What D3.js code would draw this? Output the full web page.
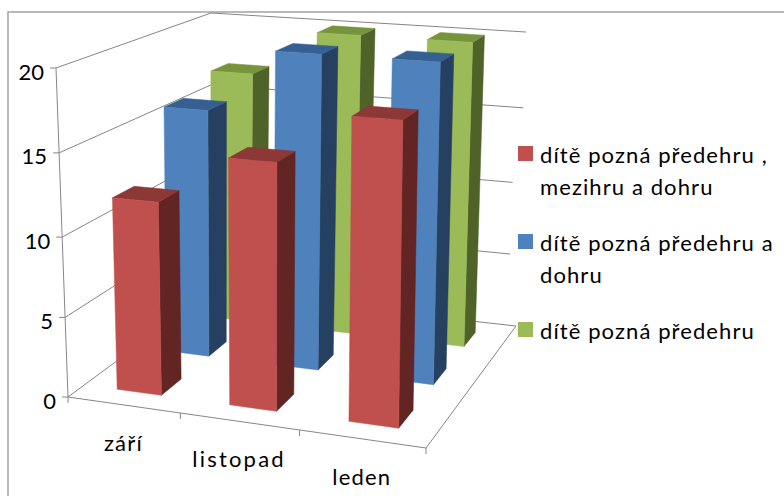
<!DOCTYPE html>
<html>
<head>
<meta charset="utf-8">
<script src="https://cdn.jsdelivr.net/npm/d3@7"></script>
<style>
  html, body { margin: 0; padding: 0; background: #fff; }
  text { font-family: Lato, sans-serif; fill: #000; }
</style>
</head>
<body>
<div id="chart"></div>
<script>
const categories = ["září", "listopad", "leden"];
const seriesNames = ["dítě pozná předehru , mezihru a dohru", "dítě pozná předehru a dohru", "dítě pozná předehru"];
const legendLines = [["dítě pozná předehru ,", "mezihru a dohru"], ["dítě pozná předehru a", "dohru"], ["dítě pozná předehru"]];
const redValues = [12, 15, 18];
const blueValues = [16, 20, 20];
const greenValues = [17, 20, 20];
const valueTicks = [0, 5, 10, 15, 20];

const seriesValues = [redValues, blueValues, greenValues];
// front, side, top
const seriesColors = [
  ["#c0504d", "#632523", "#8c3836"],
  ["#4f81bd", "#254061", "#376092"],
  ["#9bbb59", "#4f6228", "#77933c"]
];

const width = 784, height = 496;
const svg = d3.select("#chart").append("svg")
  .attr("width", width).attr("height", height)
  .style("display", "block");

//chart frame, only top and left edges are in the picture
svg.append("path")
  .attr("d", "M8,496V12H784")
  .attr("fill", "none").attr("stroke", "#a3a3a3").attr("stroke-width", 1.5);

//corners of the 3d box on screen: front left, front right, back right, back left
const floorQuad = [[68, 397], [426, 448], [516, 326], [210, 292]];
const topQuad = [[56, 68], [431, 95], [526, 32], [211, 13]];

//unit square -> quad (perspective)
function homography(q) {
  const [[x0, y0], [x1, y1], [x2, y2], [x3, y3]] = q;
  const dx1 = x1 - x2, dx2 = x3 - x2, sx = x0 - x1 + x2 - x3;
  const dy1 = y1 - y2, dy2 = y3 - y2, sy = y0 - y1 + y2 - y3;
  const det = dx1 * dy2 - dx2 * dy1;
  const g = (sx * dy2 - dx2 * sy) / det;
  const h = (dx1 * sy - sx * dy1) / det;
  return (u, v) => {
    const w = g * u + h * v + 1;
    return [
      ((x1 - x0 + g * x1) * u + (x3 - x0 + h * x3) * v + x0) / w,
      ((y1 - y0 + g * y1) * u + (y3 - y0 + h * y3) * v + y0) / w
    ];
  };
}
const floorAt = homography(floorQuad);
const topAt = homography(topQuad);

const uScale = d3.scaleBand().domain(categories).range([0, 1]).paddingInner(0.6).paddingOuter(0.3);
const vScale = d3.scaleBand().domain(seriesNames).range([0, 1]).paddingInner(0.6).paddingOuter(0.3);
//piecewise because the height axis has perspective too
const hScale = d3.scaleLinear().domain(valueTicks).range([0, 0.242, 0.486, 0.742, 1]);

function project(u, v, value) {
  const a = floorAt(u, v), b = topAt(u, v), t = hScale(value);
  return [a[0] + (b[0] - a[0]) * t, a[1] + (b[1] - a[1]) * t];
}

const line = d3.line();
const gridColor = "#868686";

//walls
const grid = svg.append("g").attr("fill", "none").attr("stroke", gridColor).attr("stroke-width", 1);
valueTicks.forEach(function(tick) {
  //the two middle gridlines stop short of the corner in the picture
  const endU = (tick === 5 || tick === 10) ? 0.975 : 1;
  grid.append("path").attr("d", line([project(0, 0, tick), project(0, 1, tick), project(endU, 1, tick)]));
  const p = project(0, 0, tick);
  grid.append("path").attr("d", line([[p[0] - 6, p[1]], p]));
  svg.append("text")
    .attr("x", p[0] - 12).attr("y", p[1] + 11.5)
    .attr("text-anchor", "end")
    .attr("font-size", 22)
    .text(tick);
});
grid.append("path").attr("d", line([project(0, 0, 0), project(0, 0, 20)]));
//floor edges
grid.append("path").attr("d", line([floorAt(0, 0), floorAt(1, 0), floorAt(1, 1)]));

//category ticks
d3.range(categories.length + 1).forEach(function(i) {
  const p = floorAt(i / categories.length, 0);
  grid.append("path").attr("d", line([p, [p[0], p[1] + 6]]));
});

//bars back to front
d3.range(seriesNames.length - 1, -1, -1).forEach(function(s) {
  const g = svg.append("g");
  const v0 = vScale(seriesNames[s]), v1 = v0 + vScale.bandwidth();
  categories.forEach(function(cat, c) {
    const u0 = uScale(cat), u1 = u0 + uScale.bandwidth();
    const val = seriesValues[s][c];
    const faces = [
      {pts: [[u1, v0, 0], [u1, v1, 0], [u1, v1, val], [u1, v0, val]], color: seriesColors[s][1]},
      {pts: [[u0, v0, val], [u1, v0, val], [u1, v1, val], [u0, v1, val]], color: seriesColors[s][2]},
      {pts: [[u0, v0, 0], [u1, v0, 0], [u1, v0, val], [u0, v0, val]], color: seriesColors[s][0]}
    ];
    g.selectAll(null).data(faces).enter().append("path")
      .attr("d", d => line(d.pts.map(p => project(p[0], p[1], p[2]))) + "Z")
      .attr("fill", d => d.color)
      .attr("stroke", d => d.color)
      .attr("stroke-width", 0.5);
  });
});

//category labels
svg.selectAll(null).data(categories).enter().append("text")
  .attr("x", d => floorAt(uScale(d) + uScale.bandwidth() / 2, 0)[0])
  .attr("y", d => floorAt(uScale(d) + uScale.bandwidth() / 2, 0)[1] + 46)
  .attr("text-anchor", "middle")
  .attr("font-size", 22)
  .attr("letter-spacing", d => d === "listopad" ? 2.2 : 1.2)
  .text(d => d);

//legend
const legendY = [146, 234, 322];
legendLines.forEach(function(lines, i) {
  svg.append("rect")
    .attr("x", 518).attr("y", legendY[i]).attr("width", 15).attr("height", 15)
    .attr("fill", seriesColors[i][0]);
  lines.forEach(function(txt, j) {
    svg.append("text")
      .attr("x", 540).attr("y", legendY[i] + 17 + j * 32)
      .attr("font-size", 22)
      .attr("letter-spacing", 1.1)
      .text(txt);
  });
});
</script>
</body>
</html>
